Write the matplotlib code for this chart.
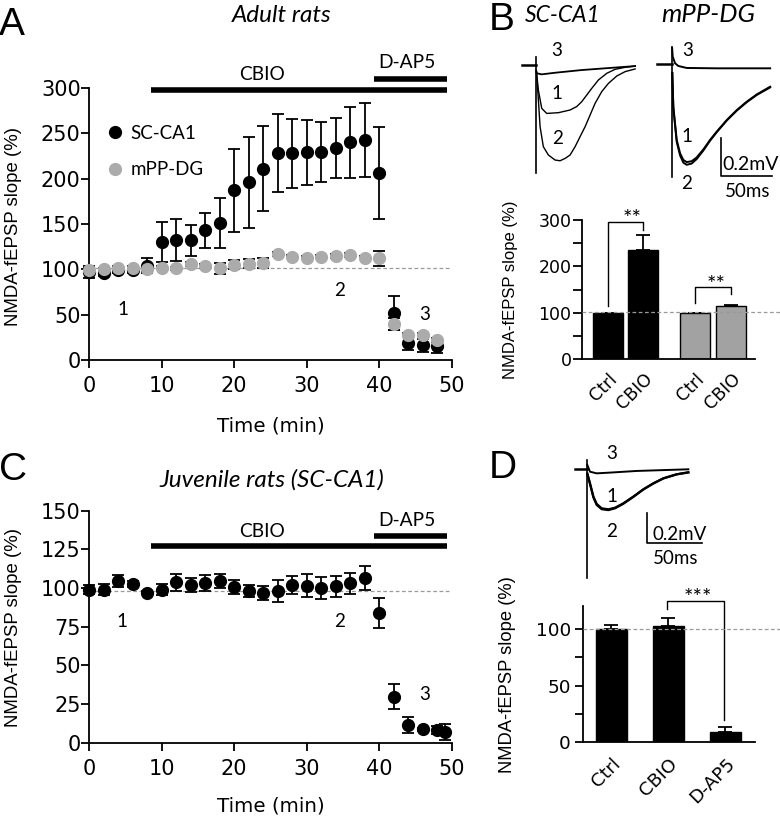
import numpy as np
import matplotlib
matplotlib.use('Agg')
import matplotlib.pyplot as plt
from matplotlib.ticker import MultipleLocator
from matplotlib.lines import Line2D

W, H = 780, 822
ARIAL = 'Liberation Sans'
WIDE = 'DejaVu Sans'
CALIBRI = 'Lato'
DOT_GREY = '#ababab'
BAR_GREY = '#a2a2a2'
DASH_GREY = '#9a9a9a'

plt.rcParams['font.family'] = [WIDE]
plt.rcParams['axes.linewidth'] = 1.3

# ---------------- data: panel A (adult rats, time course) ----------------
time_a = list(range(0, 50, 2))
sc_a = [97, 96, 99, 99, 104, 130, 132, 132, 143, 151, 187, 196, 211,
        228, 228, 229, 229, 234, 240, 243, 206, 52, 19, 16, 15]
sc_a_sem = [7, 3, 3, 3, 8, 22, 23, 17, 19, 28, 46, 50, 47,
            43, 38, 36, 33, 33, 39, 41, 51, 19, 8, 7.5, 7]
dg_a = [99, 100, 102, 102, 100, 102, 101, 106, 104, 101, 105, 106, 107,
        117, 114, 113, 114, 115, 116, 113, 112, 40, 28, 28, 22]
dg_a_sem = [2, 2, 2, 2, 2, 2, 2, 2, 2, 6, 5, 5, 5,
            2, 2, 2, 2, 2, 2, 2, 8.5, 6.6, 2, 2, 2]
baseline_a = 102

# ---------------- data: panel C (juvenile rats, time course) ----------------
time_c = list(range(0, 50, 2)) + [49]
sc_c = [99, 99, 104.5, 102.6, 97, 99, 103.7, 102, 103.4, 104.5, 100.9, 98, 97,
        98, 102, 101.5, 99.8, 101, 103, 106.3, 83.6, 29.7, 11.4, 8.6, 8.2, 7]
sc_c_sem = [3, 3.5, 4, 2, 1, 3.5, 5.5, 4.5, 5, 4.8, 4.5, 4, 4.6,
            7, 5.6, 7.5, 7.2, 6.8, 6.8, 7.8, 9.7, 8, 5, 1, 2.5, 5]
baseline_c = 98

# drug application windows (min)
cbio_window = [8.6, 49.3]
dap5_window = [39.2, 49.3]

# ---------------- data: panel B (summary bars) ----------------
b_labels = ['Ctrl', 'CBIO', 'Ctrl', 'CBIO']
b_vals = [100, 235, 100, 114]
b_sem = [0, 33, 0, 3]
b_group = ['SC-CA1', 'SC-CA1', 'mPP-DG', 'mPP-DG']

# ---------------- data: panel D (summary bars) ----------------
d_labels = ['Ctrl', 'CBIO', 'D-AP5']
d_vals = [100, 102, 9.5]
d_sem = [3, 7, 4]

# ---------------- data: example traces (ms, mV) ----------------
sc_t1 = [0.8, 2.6, 5.9, 10.8, 22.2, 33.7, 40.2, 45.1, 50.0, 54.9, 61.5, 69.7, 77.8, 87.6, 97.4]
sc_v1 = [-0.04, -0.139, -0.241, -0.269, -0.265, -0.250, -0.231, -0.204, -0.167, -0.130,
         -0.083, -0.046, -0.024, -0.013, -0.006]
sc_t2 = [0.8, 2.0, 4.3, 7.5, 12.4, 19.0, 23.9, 28.8, 33.7, 38.6, 43.5, 48.4, 53.3, 58.2,
         64.7, 71.3, 79.5, 87.6, 97.4]
sc_v2 = [-0.04, -0.139, -0.343, -0.454, -0.500, -0.528, -0.532, -0.519, -0.500, -0.454,
         -0.398, -0.343, -0.278, -0.213, -0.148, -0.102, -0.061, -0.037, -0.022]
sc_t3 = [0.5, 1.0, 5.9, 19.0, 45.1, 71.3, 97.4]
sc_v3 = [-0.03, -0.046, -0.052, -0.043, -0.028, -0.017, -0.006]
sc_artifact = [0.046, -0.6]
sc_pre = [-13.0, 0.0]

dg_t1 = [0.6, 1.6, 4.9, 8.2, 11.4, 14.7, 19.6, 24.5, 31.1, 37.6, 44.1, 54.0, 63.8, 73.6, 83.4, 96.5]
dg_v1 = [-0.05, -0.237, -0.422, -0.496, -0.533, -0.545, -0.540, -0.519, -0.474, -0.422,
         -0.376, -0.311, -0.256, -0.209, -0.169, -0.126]
dg_t2 = [0.6, 1.6, 4.9, 8.2, 11.4, 14.7, 19.6, 24.5, 31.1, 37.6, 44.1, 54.0, 63.8, 73.6, 83.4, 96.5]
dg_v2 = [-0.05, -0.245, -0.432, -0.508, -0.548, -0.560, -0.553, -0.528, -0.480, -0.426,
         -0.379, -0.314, -0.259, -0.212, -0.172, -0.130]
dg_t3 = [0.4, 1.0, 3.3, 6.5, 14.7, 44.1, 96.5]
dg_v3 = [0.09, 0.041, 0.004, -0.011, -0.022, -0.024, -0.024]
dg_artifact = [0.096, -0.626]
dg_pre = [-14.0, 0.0]

d_t1 = [0.6, 3.0, 6.1, 9.1, 13.6, 19.7, 25.8, 33.3, 42.4, 51.5, 60.6, 69.7, 81.8, 92.4]
d_v1 = [-0.03, -0.093, -0.182, -0.231, -0.260, -0.267, -0.256, -0.227, -0.182, -0.133,
        -0.093, -0.060, -0.033, -0.020]
d_t2 = [0.6, 3.0, 6.1, 9.1, 13.6, 19.7, 25.8, 33.3, 42.4, 51.5, 60.6, 69.7, 81.8, 92.4]
d_v2 = [-0.03, -0.098, -0.188, -0.238, -0.266, -0.272, -0.260, -0.230, -0.184, -0.135,
        -0.095, -0.061, -0.034, -0.021]
d_t3 = [0.5, 3.0, 9.1, 21.2, 45.5, 92.4]
d_v3 = [0.03, -0.016, -0.027, -0.022, -0.011, 0.0]
d_artifact = [0.062, -0.727]
d_pre = [-10.6, 0.0]


def px_axes(fig, x0, y0, x1, y1):
    """Axes placed by pixel box (left, top, right, bottom)."""
    return fig.add_axes([x0 / W, 1 - y1 / H, (x1 - x0) / W, (y1 - y0) / H])


def px_text(fig, x, y, s, **kw):
    kw.setdefault('ha', 'center')
    kw.setdefault('va', 'center')
    return fig.text(x / W, 1 - y / H, s, **kw)


def style_axes(ax, size, tick_len=5.5, ypad=1):
    for side in ('top', 'right'):
        ax.spines[side].set_visible(False)
    ax.tick_params(which='both', direction='out', length=tick_len, width=1.3)
    ax.tick_params(axis='y', labelsize=size, pad=ypad)
    ax.tick_params(axis='x', labelsize=size, pad=6)


def unclip(container):
    for art in container.get_children():
        art.set_clip_on(False)


def timecourse(ax, ymax, ystep, base, cbio_y, dap5_y):
    ax.set_xlim(0, 50)
    ax.set_ylim(0, ymax)
    ax.xaxis.set_major_locator(MultipleLocator(10))
    ax.yaxis.set_major_locator(MultipleLocator(ystep))
    style_axes(ax, 15, tick_len=5.5, ypad=0.5)
    ax.plot([0, 50], [base, base], color=DASH_GREY, lw=0.9, ls=(0, (3, 2)), zorder=1)
    ax.plot(cbio_window, [cbio_y, cbio_y], color='black', lw=4,
            solid_capstyle='butt', clip_on=False)
    ax.plot(dap5_window, [dap5_y, dap5_y], color='black', lw=4,
            solid_capstyle='butt', clip_on=False)


fig = plt.figure(figsize=(W / 100, H / 100), dpi=100)

# ---------------- panel A ----------------
ax_a = px_axes(fig, 89, 88, 452, 360)
timecourse(ax_a, 300, 50, baseline_a, 298.3, 310)
eb = ax_a.errorbar(time_a, sc_a, yerr=sc_a_sem, fmt='o', color='black', ms=8.5,
                   capsize=4.5, elinewidth=1.3, capthick=1.3, zorder=3)
unclip(eb)
eb = ax_a.errorbar(time_a, dg_a, yerr=dg_a_sem, fmt='o', color='black', mfc=DOT_GREY,
                   mec=DOT_GREY, ms=8.5, capsize=4.5, elinewidth=1.3, capthick=1.3,
                   zorder=4)
unclip(eb)
handles = [Line2D([], [], ls='none', marker='o', color='black', ms=8.5),
           Line2D([], [], ls='none', marker='o', color=DOT_GREY, ms=8.5)]
ax_a.legend(handles, ['SC-CA1', 'mPP-DG'], loc='upper left', frameon=False,
            bbox_to_anchor=(0.047, 0.865), borderpad=0, borderaxespad=0,
            handlelength=1.0, handletextpad=0.3, labelspacing=1.05,
            prop={'family': CALIBRI, 'size': 13.5})

px_text(fig, 12, 35, 'A', fontsize=28, va='baseline', family=ARIAL)
px_text(fig, 281.7, 21.7, 'Adult rats', fontsize=17.5, style='italic',
        family=CALIBRI, va='baseline')
px_text(fig, 262, 80, 'CBIO', fontsize=13.8, family=CALIBRI, va='baseline')
px_text(fig, 407, 68.3, 'D-AP5', fontsize=13.8, family=CALIBRI, va='baseline')
px_text(fig, 122.7, 309.3, '1', fontsize=13.5, family=CALIBRI)
px_text(fig, 339.3, 290, '2', fontsize=13.5, family=CALIBRI)
px_text(fig, 425, 315, '3', fontsize=13.5, family=CALIBRI)
px_text(fig, 14, 226, 'NMDA-fEPSP slope (%)', fontsize=13.4, rotation=90, family=ARIAL)
px_text(fig, 271, 431.7, 'Time (min)', fontsize=14.3, va='baseline')

# ---------------- panel C ----------------
ax_c = px_axes(fig, 89, 510.7, 452, 742.7)
timecourse(ax_c, 150, 25, baseline_c, 127.3, 133.6)
eb = ax_c.errorbar(time_c, sc_c, yerr=sc_c_sem, fmt='o', color='black', ms=8.5,
                   capsize=4.5, elinewidth=1.3, capthick=1.3, zorder=3)
unclip(eb)
px_text(fig, 13, 480, 'C', fontsize=28, va='baseline', family=ARIAL)
px_text(fig, 272, 487, 'Juvenile rats (SC-CA1)', fontsize=17.5, style='italic',
        family=CALIBRI, va='baseline')
px_text(fig, 262.3, 536.7, 'CBIO', fontsize=13.8, family=CALIBRI, va='baseline')
px_text(fig, 407.3, 526, 'D-AP5', fontsize=13.8, family=CALIBRI, va='baseline')
px_text(fig, 121.7, 621.7, '1', fontsize=13.5, family=CALIBRI)
px_text(fig, 339.3, 621.7, '2', fontsize=13.5, family=CALIBRI)
px_text(fig, 424.3, 694.3, '3', fontsize=13.5, family=CALIBRI)
px_text(fig, 14, 627, 'NMDA-fEPSP slope (%)', fontsize=13.4, rotation=90, family=ARIAL)
px_text(fig, 271, 811.7, 'Time (min)', fontsize=14.3, va='baseline')

# ---------------- panel B traces ----------------
def trace_axes(x0, y0, x1, y1, stim_x, base_y, ms_per_px, mv_per_px):
    ax = px_axes(fig, x0, y0, x1, y1)
    ax.set_xlim((x0 - stim_x) * ms_per_px, (x1 - stim_x) * ms_per_px)
    ax.set_ylim(-(y1 - base_y) * mv_per_px, -(y0 - base_y) * mv_per_px)
    ax.axis('off')
    return ax


ax_sc = trace_axes(505, 40, 650, 190, 535.7, 65, 0.98, 0.005556)
ax_sc.plot(sc_pre, [0, 0], color='black', lw=1.8)
ax_sc.plot([0, 0], sc_artifact, color='black', lw=1.2)
ax_sc.plot(sc_t1, sc_v1, color='black', lw=1.0)
ax_sc.plot(sc_t2, sc_v2, color='black', lw=1.0)
ax_sc.plot(sc_t3, sc_v3, color='black', lw=1.3)

ax_dg = trace_axes(650, 40, 780, 200, 671.7, 64, 0.98, 0.005556)
ax_dg.plot(dg_pre, [0, 0], color='black', lw=1.8)
ax_dg.plot([0, 0], dg_artifact, color='black', lw=1.2)
ax_dg.plot(dg_t1, dg_v1, color='black', lw=1.4)
ax_dg.plot(dg_t2, dg_v2, color='black', lw=1.4)
ax_dg.plot(dg_t3, dg_v3, color='black', lw=1.4)
ax_dg.plot([48, 48, 98], [-0.41, -0.62, -0.62], color='black', lw=1.2)

px_text(fig, 502, 30, 'B', fontsize=28, va='baseline', family=ARIAL)
px_text(fig, 563, 21.7, 'SC-CA1', fontsize=16.5, style='italic', family=CALIBRI,
        va='baseline')
px_text(fig, 708, 21.7, 'mPP-DG', fontsize=18.5, style='italic', family=CALIBRI,
        va='baseline')
for x, y, s in [(556.7, 50, '3'), (556.7, 93.3, '1'), (557.7, 138.3, '2'),
                (687.7, 50, '3'), (686.7, 136, '1'), (686.7, 183.3, '2')]:
    px_text(fig, x, y, s, fontsize=13.5, family=CALIBRI)
px_text(fig, 751, 164, '0.2mV', fontsize=14, family=CALIBRI)
px_text(fig, 748, 191.7, '50ms', fontsize=13.5, family=CALIBRI)

# ---------------- panel B bars ----------------
ax_b = px_axes(fig, 582, 220, 755, 359)
b_pos = [0, 1.18, 2.91, 4.11]
b_colors = ['black' if g == 'SC-CA1' else BAR_GREY for g in b_group]
ax_b.bar(b_pos, b_vals, width=1.0, color=b_colors, edgecolor='black', lw=1,
         yerr=[[0] * len(b_sem), b_sem], capsize=5,
         error_kw=dict(elinewidth=1.3, capthick=1.3, ecolor='black'), zorder=2)
ax_b.set_xlim(-0.86, 4.91)
ax_b.set_ylim(0, 300)
ax_b.yaxis.set_major_locator(MultipleLocator(100))
ax_b.yaxis.set_minor_locator(MultipleLocator(50))
style_axes(ax_b, 12.5, tick_len=6.5, ypad=1)
ax_b.set_xticks(b_pos)
ax_b.set_xticklabels(b_labels, rotation=45, ha='right', rotation_mode='anchor')
ax_b.tick_params(axis='x', length=0, pad=8)
ax_b.plot([-0.86, 5.75], [101, 101], color=DASH_GREY, lw=0.9, ls=(0, (3, 2)),
          clip_on=False, zorder=3)
# significance brackets
ax_b.plot([b_pos[0], b_pos[0], b_pos[1], b_pos[1]], [114, 295, 295, 278],
          color='black', lw=1.0, clip_on=False)
ax_b.text(0.8, 290, '**', ha='center', va='baseline', fontsize=16, family=CALIBRI)
ax_b.plot([b_pos[2], b_pos[2], b_pos[3], b_pos[3]], [120, 156, 156, 140],
          color='black', lw=1.0, clip_on=False)
ax_b.text(3.6, 147, '**', ha='center', va='baseline', fontsize=16, family=CALIBRI)
px_text(fig, 510, 290, 'NMDA-fEPSP slope (%)', fontsize=12, rotation=90, family=ARIAL)

# ---------------- panel D traces ----------------
ax_dt = trace_axes(570, 440, 765, 590, 586.7, 469.3, 0.909, 0.00667)
ax_dt.plot(d_pre, [0, 0], color='black', lw=1.8)
ax_dt.plot([0, 0], d_artifact, color='black', lw=1.2)
ax_dt.plot(d_t1, d_v1, color='black', lw=1.6)
ax_dt.plot(d_t2, d_v2, color='black', lw=1.6)
ax_dt.plot(d_t3, d_v3, color='black', lw=1.4)
ax_dt.plot([55.1, 55.1, 105.1], [-0.29, -0.49, -0.49], color='black', lw=1.2)
px_text(fig, 503, 478, 'D', fontsize=28, va='baseline', family=ARIAL)
for x, y, s in [(611.7, 453.3, '3'), (611.7, 496.7, '1'), (611.7, 531.7, '2')]:
    px_text(fig, x, y, s, fontsize=13.5, family=CALIBRI)
px_text(fig, 680, 534, '0.2mV', fontsize=13.5, family=CALIBRI)
px_text(fig, 676, 559, '50ms', fontsize=13.5, family=CALIBRI)

# ---------------- panel D bars ----------------
ax_d = px_axes(fig, 583.3, 606, 755, 742.3)
d_pos = [0, 1, 2]
ax_d.bar(d_pos, d_vals, width=0.54, color='black', edgecolor='black', lw=1,
         yerr=[[0] * len(d_sem), d_sem], capsize=5,
         error_kw=dict(elinewidth=1.3, capthick=1.3, ecolor='black'), zorder=2)
ax_d.set_xlim(-0.49, 2.52)
ax_d.set_ylim(0, 120)
ax_d.set_yticks([0, 50, 100])
ax_d.yaxis.set_minor_locator(MultipleLocator(25))
style_axes(ax_d, 13.3, tick_len=6, ypad=3)
ax_d.set_xticks(d_pos)
ax_d.set_xticklabels(d_labels, rotation=45, ha='right', rotation_mode='anchor')
ax_d.tick_params(axis='x', length=0, pad=9)
ax_d.plot([-0.49, 3.0], [100, 100], color=DASH_GREY, lw=0.9, ls=(0, (3, 2)),
          clip_on=False, zorder=3)
ax_d.plot([0.98, 0.98, 1.98, 1.98], [117, 124, 124, 19.5], color='black', lw=1.0,
          clip_on=False)
ax_d.text(1.51, 122, '***', ha='center', va='baseline', fontsize=16, family=CALIBRI)
px_text(fig, 507, 675, 'NMDA-fEPSP slope (%)', fontsize=13.2, rotation=90, family=ARIAL)

fig.savefig('out.png', dpi=100)
